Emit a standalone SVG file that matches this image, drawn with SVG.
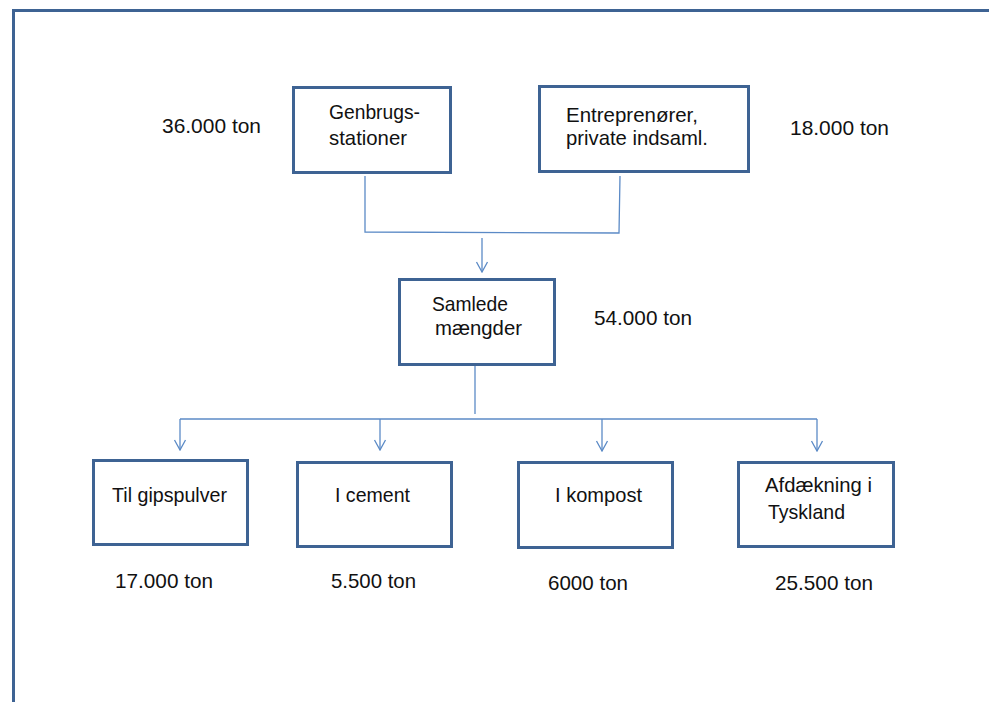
<svg xmlns="http://www.w3.org/2000/svg" width="989" height="702" viewBox="0 0 989 702">
  <style>
    .box { fill: #ffffff; stroke: #3e6393; stroke-width: 3; }
    .lbl { font-family: "Liberation Sans", Arial, sans-serif; font-size: 21px; fill: #111111; }
    .conn { fill: none; stroke: #5b8ac6; stroke-width: 1.3; }
    .frame { fill: none; stroke: #3e6393; stroke-width: 3; }
  </style>
  <defs>
    <marker id="arrow" markerUnits="userSpaceOnUse" markerWidth="12" markerHeight="14" viewBox="0 0 12 14" refX="11" refY="7" orient="auto">
      <path d="M1,1.5 L11,7 L1,12.5" fill="none" stroke="#5b8ac6" stroke-width="1.3"/>
    </marker>
  </defs>

  <rect width="989" height="702" fill="#ffffff"/>
  <!-- page frame -->
  <path class="frame" d="M13.5,702 L13.5,10.5 L989,10.5"/>

  <!-- connectors -->
  <g id="connectors">
    <path class="conn" d="M365,176 L365,232 L619,233 L620,176"/>
    <path class="conn" d="M482,238 L482,272" marker-end="url(#arrow)"/>
    <path class="conn" d="M475,366 L475,414"/>
    <path class="conn" d="M180,419 L817,419"/>
    <path class="conn" d="M180,419 L180,450" marker-end="url(#arrow)"/>
    <path class="conn" d="M380,419 L380,450" marker-end="url(#arrow)"/>
    <path class="conn" d="M602,419 L602,451" marker-end="url(#arrow)"/>
    <path class="conn" d="M817,419 L817,451" marker-end="url(#arrow)"/>
  </g>

  <!-- source nodes -->
  <g id="genbrug">
    <rect class="box" x="293.5" y="87.5" width="157" height="85"/>
    <text class="lbl" x="329" y="119" textLength="91" lengthAdjust="spacingAndGlyphs">Genbrugs-</text>
    <text class="lbl" x="329" y="145" textLength="78" lengthAdjust="spacingAndGlyphs">stationer</text>
  </g>
  <g id="entreprenoer">
    <rect class="box" x="539.5" y="86.5" width="209" height="85"/>
    <text class="lbl" x="566" y="122" textLength="132" lengthAdjust="spacingAndGlyphs">Entreprenører,</text>
    <text class="lbl" x="566" y="145" textLength="142" lengthAdjust="spacingAndGlyphs">private indsaml.</text>
  </g>

  <!-- total -->
  <g id="samlede">
    <rect class="box" x="399.5" y="279.5" width="155" height="85"/>
    <text class="lbl" x="432" y="311" textLength="76" lengthAdjust="spacingAndGlyphs">Samlede</text>
    <text class="lbl" x="435" y="335" textLength="87" lengthAdjust="spacingAndGlyphs">mængder</text>
  </g>

  <!-- destinations -->
  <g id="gipspulver">
    <rect class="box" x="93.5" y="460.5" width="154" height="84"/>
    <text class="lbl" x="112" y="502" textLength="115" lengthAdjust="spacingAndGlyphs">Til gipspulver</text>
  </g>
  <g id="cement">
    <rect class="box" x="297.5" y="462.5" width="154" height="84"/>
    <text class="lbl" x="335" y="502" textLength="75" lengthAdjust="spacingAndGlyphs">I cement</text>
  </g>
  <g id="kompost">
    <rect class="box" x="518.5" y="462.5" width="154" height="85"/>
    <text class="lbl" x="555" y="502" textLength="87" lengthAdjust="spacingAndGlyphs">I kompost</text>
  </g>
  <g id="afdaekning">
    <rect class="box" x="738.5" y="462.5" width="155" height="84"/>
    <text class="lbl" x="765" y="492" textLength="107" lengthAdjust="spacingAndGlyphs">Afdækning i</text>
    <text class="lbl" x="768" y="519" textLength="77" lengthAdjust="spacingAndGlyphs">Tyskland</text>
  </g>

  <!-- quantities -->
  <g id="quantities">
    <text class="lbl" x="162" y="133" textLength="99" lengthAdjust="spacingAndGlyphs">36.000 ton</text>
    <text class="lbl" x="790" y="135" textLength="99" lengthAdjust="spacingAndGlyphs">18.000 ton</text>
    <text class="lbl" x="594" y="325" textLength="98" lengthAdjust="spacingAndGlyphs">54.000 ton</text>
    <text class="lbl" x="115" y="588" textLength="98" lengthAdjust="spacingAndGlyphs">17.000 ton</text>
    <text class="lbl" x="331" y="588" textLength="85" lengthAdjust="spacingAndGlyphs">5.500 ton</text>
    <text class="lbl" x="548" y="590" textLength="80" lengthAdjust="spacingAndGlyphs">6000 ton</text>
    <text class="lbl" x="775" y="590" textLength="98" lengthAdjust="spacingAndGlyphs">25.500 ton</text>
  </g>
</svg>
